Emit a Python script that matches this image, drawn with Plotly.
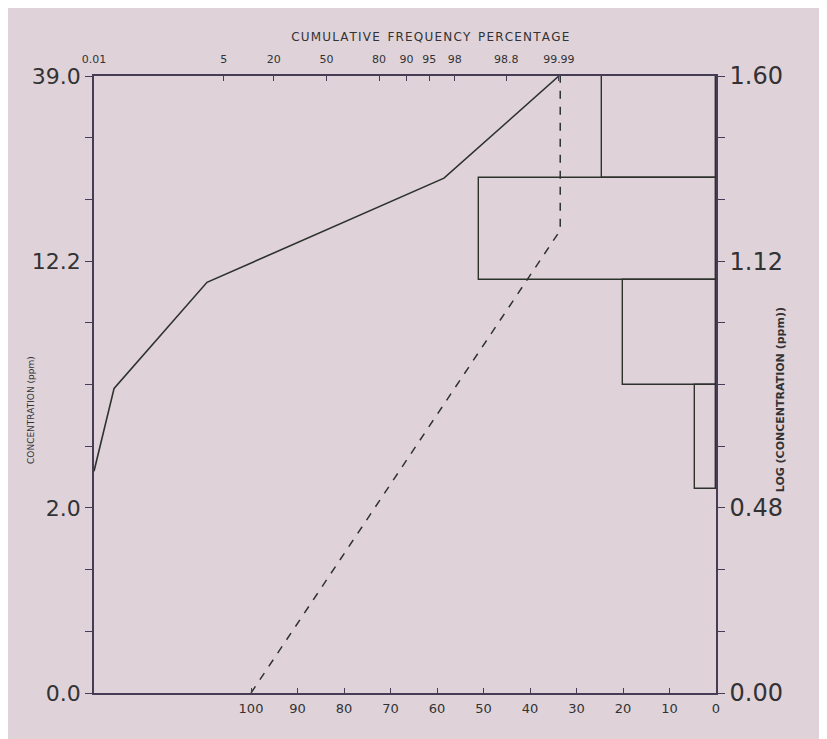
import math
import plotly.graph_objects as go

# ---------------- data ----------------
# top axis: cumulative frequency percentage (probability scale)
top_tick_pct = [0.01, 5, 20, 50, 80, 90, 95, 98, 99.8, 99.99]
top_tick_text = ["0.01", "5", "20", "50", "80", "90", "95", "98", "98.8", "99.99"]

# solid curve: cumulative frequency (%) vs log concentration
cum_pct = [0.01, 0.034, 2.8, 97.0, 99.99]
cum_log = [0.575, 0.79, 1.065, 1.335, 1.60]

# dashed curve on bottom (percentage) axis
dash_pct = [100, 33.5, 33.5]
dash_log = [0.0, 1.20, 1.60]

# histogram of log concentration (frequency %)
hist_edges = [0.53, 0.80, 1.07, 1.335, 1.60]
hist_freq = [4.5, 20, 51, 24.5]

# axes
bottom_ticks = [100, 90, 80, 70, 60, 50, 40, 30, 20, 10, 0]
y_ticks = [0, 0.16, 0.32, 0.48, 0.64, 0.80, 0.96, 1.12, 1.28, 1.44, 1.60]
left_labels = {0: "0.0", 0.48: "2.0", 1.12: "12.2", 1.60: "39.0"}
right_labels = {0: "0.00", 0.48: "0.48", 1.12: "1.12", 1.60: "1.60"}


def probit(p_pct):
    p = p_pct / 100.0
    lo, hi = -10.0, 10.0
    for _ in range(100):
        mid = (lo + hi) / 2
        if 0.5 * (1 + math.erf(mid / math.sqrt(2))) < p:
            lo = mid
        else:
            hi = mid
    return (lo + hi) / 2


BG = "rgb(223,211,217)"
INK = "rgb(45,50,45)"
AX = "rgb(70,60,85)"
TXT = "rgb(50,50,52)"

hist_centers = [(hist_edges[i] + hist_edges[i + 1]) / 2 for i in range(len(hist_freq))]
hist_widths = [hist_edges[i + 1] - hist_edges[i] for i in range(len(hist_freq))]

fig = go.Figure()

fig.add_trace(go.Bar(
    orientation="h", y=hist_centers, x=hist_freq, width=hist_widths,
    xaxis="x", yaxis="y2",
    marker=dict(color="rgba(0,0,0,0)", line=dict(color=INK, width=1.4)),
    showlegend=False, hoverinfo="skip",
))

fig.add_trace(go.Scatter(
    x=dash_pct, y=dash_log, xaxis="x", yaxis="y", mode="lines",
    line=dict(color=INK, width=1.5, dash="8px,8px"), showlegend=False,
))

fig.add_trace(go.Scatter(
    x=[probit(p) for p in cum_pct], y=cum_log, xaxis="x2", yaxis="y", mode="lines",
    line=dict(color=INK, width=1.6), showlegend=False,
))

z_left = probit(0.01)
px_per_z = 62.5
plot_w = 622
z_right = z_left + plot_w / px_per_z
bottom_left = plot_w / 4.65

FONT = "DejaVu Sans"

fig.update_layout(
    width=827, height=739,
    margin=dict(l=86, r=119, t=68, b=54),
    paper_bgcolor=BG, plot_bgcolor=BG,
    bargap=0,
    xaxis=dict(
        range=[bottom_left, 0], tickvals=bottom_ticks,
        ticktext=[str(v) for v in bottom_ticks],
        ticks="inside", ticklen=5, tickcolor=AX, tickwidth=1.2,
        showline=True, linecolor=AX, linewidth=1.5,
        showgrid=False, zeroline=False, ticklabelstandoff=3,
        tickfont=dict(family=FONT, size=13, color=TXT),
    ),
    xaxis2=dict(
        overlaying="x", side="top", range=[z_left, z_right],
        tickvals=[probit(p) for p in top_tick_pct], ticktext=top_tick_text,
        ticks="inside", ticklen=5, tickcolor=AX, tickwidth=1.2,
        showline=True, linecolor=AX, linewidth=1.5,
        showgrid=False, zeroline=False, ticklabelstandoff=7,
        tickfont=dict(family=FONT, size=11, color=TXT),
    ),
    yaxis=dict(
        range=[0, 1.6], tickvals=y_ticks,
        ticktext=[left_labels.get(v, "") for v in y_ticks],
        ticks="outside", ticklen=7, tickcolor=AX, tickwidth=1.2,
        showline=True, linecolor=AX, linewidth=1.5,
        showgrid=False, zeroline=False, ticklabelstandoff=0,
        tickfont=dict(family=FONT, size=22, color=TXT),
    ),
    yaxis2=dict(
        overlaying="y", side="right", range=[0, 1.6], tickvals=y_ticks,
        ticktext=[right_labels.get(v, "") for v in y_ticks],
        ticks="outside", ticklen=7, tickcolor=AX, tickwidth=1.2,
        showline=True, linecolor=AX, linewidth=1.5,
        showgrid=False, zeroline=False,
        tickfont=dict(family=FONT, size=24, color=TXT),
    ),
    annotations=[
        dict(text="\u200aC\u200aU\u200aM\u200aU\u200aL\u200aA\u200aT\u200aI\u200aV\u200aE  F\u200aR\u200aE\u200aQ\u200aU\u200aE\u200aN\u200aC\u200aY  P\u200aE\u200aR\u200aC\u200aE\u200aN\u200aT\u200aA\u200aG\u200aE",
             xref="paper", yref="paper", x=0.539, y=1.063, showarrow=False,
             xanchor="center", yanchor="middle",
             font=dict(family=FONT, size=12, color=TXT)),
        dict(text="CONCENTRATION (ppm)", textangle=-90,
             xref="paper", yref="paper", x=-0.101, y=0.459, showarrow=False,
             xanchor="center", yanchor="middle",
             font=dict(family=FONT, size=9, color=TXT)),
        dict(text="<b>LOG (CONCENTRATION (ppm))</b>", textangle=-90,
             xref="paper", yref="paper", x=1.105, y=0.475, showarrow=False,
             xanchor="center", yanchor="middle",
             font=dict(family=FONT, size=11, color=TXT)),
    ],
)

fig.write_html("out.html")
